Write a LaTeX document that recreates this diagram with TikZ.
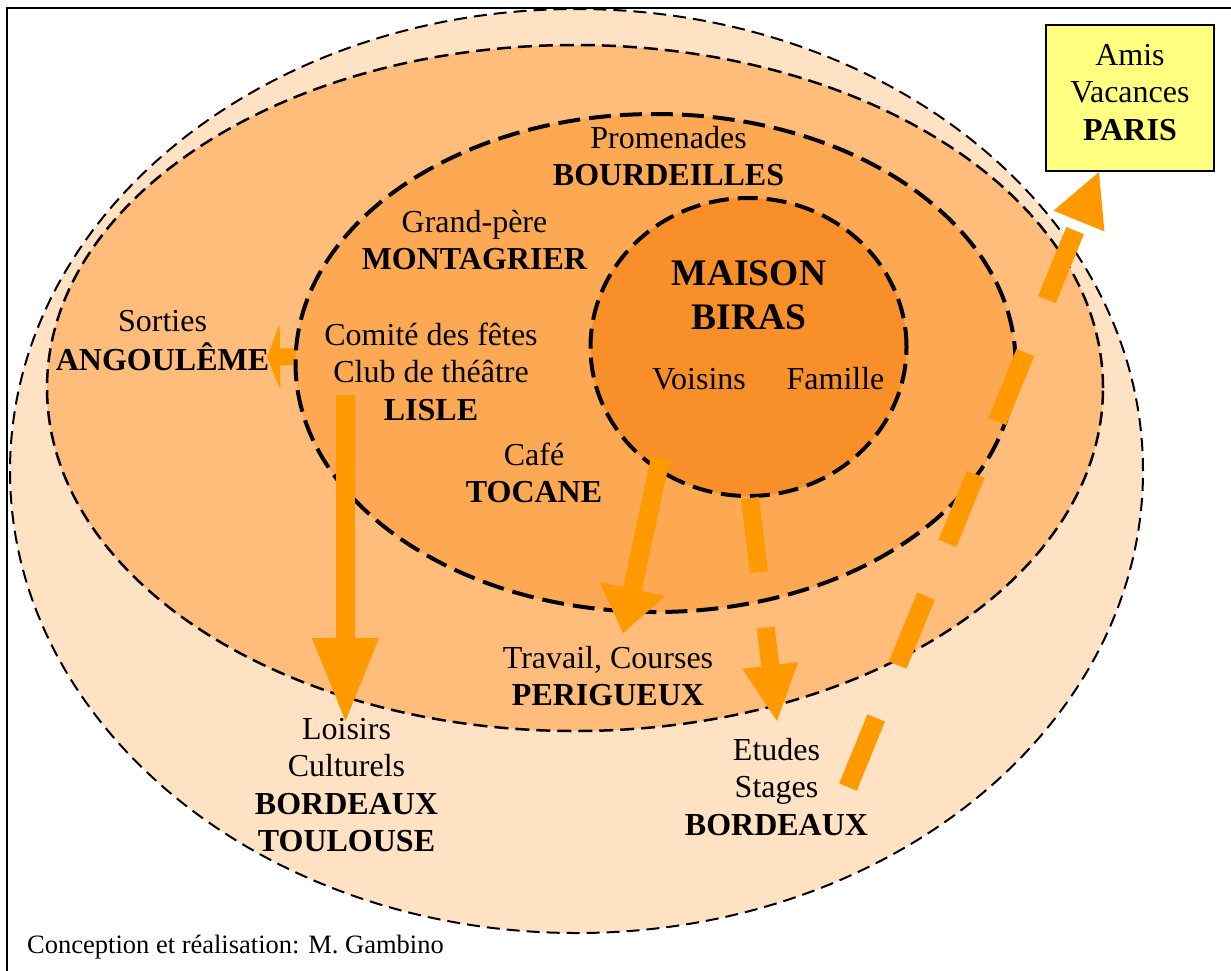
\documentclass[tikz,border=0pt]{standalone}
\usepackage{fontspec}
\setmainfont{Liberation Serif}
\usetikzlibrary{arrows.meta}
\definecolor{ringA}{HTML}{FFE1C4}
\definecolor{ringB}{HTML}{FFBC7A}
\definecolor{ringC}{HTML}{FDA954}
\definecolor{ringD}{HTML}{F98F29}
\definecolor{arrowor}{HTML}{FF9900}
\definecolor{boxyel}{HTML}{FFFF80}
\newcommand\fnorm{\fontsize{32}{37.5}\selectfont}
\newcommand\fbig{\fontsize{37.5}{44}\selectfont}
\newcommand\fsmall{\fontsize{26.5}{31}\selectfont}
\newcommand\blk[1]{\begin{tabular}[t]{@{}c@{}}#1\end{tabular}}
\begin{document}
\begin{tikzpicture}[x=1pt,y=-1pt,
  lbl/.style={inner sep=0pt, anchor=base, font=\fnorm},
  bigl/.style={inner sep=0pt, anchor=base, font=\fbig},
  ringone/.style={fill=ringA, draw=black, line width=2pt, dash pattern=on 13pt off 7pt},
  ringtwo/.style={fill=ringB, draw=black, line width=2.5pt, dash pattern=on 14pt off 7pt},
  ringthree/.style={fill=ringC, draw=black, line width=4pt, dash pattern=on 22pt off 9pt},
  ringfour/.style={fill=ringD, draw=black, line width=4pt, dash pattern=on 20pt off 9pt},
  flow/.style={draw=arrowor, line width=19pt},
  flowdash/.style={flow, dash pattern=on 74.6pt off 57pt},
]
\useasboundingbox (0,0) rectangle (1231,970);
\fill[white] (0,0) rectangle (1231,970);
\draw[line width=2pt] (7,975) -- (7,8) -- (1236,8);

% rings
\path[ringone] (576.5,471) ellipse [x radius=566.5pt, y radius=462pt];
\path[ringtwo] (575,388) ellipse [x radius=528pt, y radius=343pt];

% arrow to Angouleme (under the inner rings' outline)
\coordinate (a1s) at (318,356.5);
\coordinate (a1e) at (267,357);
\draw[flow, line width=17pt, -{Triangle[length=13pt,width=65pt,line width=0pt]}] (a1s) -- (a1e);

\path[ringthree] (655.5,363) ellipse [x radius=360pt, y radius=249pt];
\path[ringfour] (748.5,347) ellipse [x radius=158pt, y radius=149pt];

% arrows
\coordinate (a2s) at (345.5,395);
\coordinate (a2e) at (345.5,721);
\draw[flow, -{Triangle[length=83pt,width=67pt,line width=0pt]}] (a2s) -- (a2e);

\coordinate (a3s) at (660.5,458);
\coordinate (a3e) at (623,633);
\draw[flow, -{Triangle[length=45pt,width=67pt,line width=0pt]}] (a3s) -- (a3e);

\coordinate (a4s) at (750,498);
\coordinate (a4e) at (777,721);
\draw[flow, line width=18pt, dash pattern=on 74.5pt off 56pt, -{Triangle[length=56pt,width=56pt,line width=0pt]}] (a4s) -- (a4e);

\coordinate (a5s) at (848,787);
\coordinate (a5e) at (1099,172);
\draw[flowdash, -{Triangle[length=53pt,width=55pt,line width=0pt]}] (a5s) -- (a5e);

% Paris box
\node[draw=black, fill=boxyel, line width=2pt, inner sep=0pt, minimum width=168pt, minimum height=146pt] (parisbox) at (1129.5,98) {};
\node[lbl] (paris) at (1130,65) {\blk{Amis\\Vacances\\\textbf{PARIS}}};

% labels
\node[lbl] (bourdeilles) at (668.5,148) {\blk{Promenades\\\textbf{BOURDEILLES}}};
\node[lbl] (montagrier) at (474.5,232) {\blk{Grand-père\\\textbf{MONTAGRIER}}};
\node[lbl] (angouleme) at (162.5,331) {\blk{Sorties\\\textbf{ANGOULÊME}}};
\node[lbl] (lisle) at (431,345) {\blk{Comité des fêtes\\Club de théâtre\\\textbf{LISLE}}};
\node[lbl] (tocane) at (534,465) {\blk{Café\\\textbf{TOCANE}}};
\node[bigl] (maison) at (749,285) {\blk{\textbf{MAISON}\\\textbf{BIRAS}}};
\node[lbl] (voisins) at (699,389) {Voisins};
\node[lbl] (famille) at (835.5,389) {Famille};
\node[lbl] (perigueux) at (608,668) {\blk{Travail, Courses\\\textbf{PERIGUEUX}}};
\node[lbl] (loisirs) at (346.5,739) {\blk{Loisirs\\Culturels\\\textbf{BORDEAUX}\\\textbf{TOULOUSE}}};
\node[lbl] (etudes) at (776.5,760) {\blk{Etudes\\Stages\\\textbf{BORDEAUX}}};
\node[inner sep=0pt, anchor=base west, font=\fsmall] (credit) at (27,953) {Conception et réalisation: M. Gambino};
\end{tikzpicture}
\end{document}
